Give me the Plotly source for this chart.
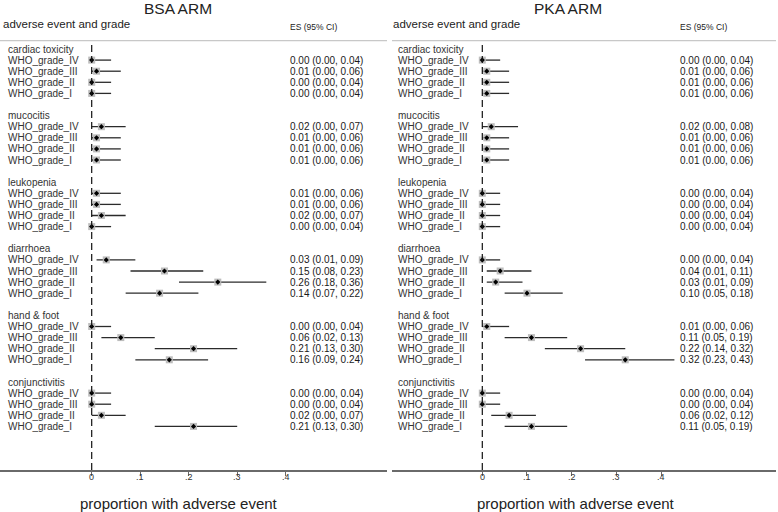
import plotly.graph_objects as go

# ---------------- data ----------------
events = ["cardiac toxicity", "mucocitis", "leukopenia", "diarrhoea", "hand & foot", "conjunctivitis"]
grades = ["WHO_grade_IV", "WHO_grade_III", "WHO_grade_II", "WHO_grade_I"]
tick_vals = [0, 0.1, 0.2, 0.3, 0.4]
tick_text = ["0", ".1", ".2", ".3", ".4"]
arm_titles = ["BSA ARM", "PKA ARM"]

bsa_es = [0.00, 0.01, 0.00, 0.00,
          0.02, 0.01, 0.01, 0.01,
          0.01, 0.01, 0.02, 0.00,
          0.03, 0.15, 0.26, 0.14,
          0.00, 0.06, 0.21, 0.16,
          0.00, 0.00, 0.02, 0.21]
bsa_lo = [0.00, 0.00, 0.00, 0.00,
          0.00, 0.00, 0.00, 0.00,
          0.00, 0.00, 0.00, 0.00,
          0.01, 0.08, 0.18, 0.07,
          0.00, 0.02, 0.13, 0.09,
          0.00, 0.00, 0.00, 0.13]
bsa_hi = [0.04, 0.06, 0.04, 0.04,
          0.07, 0.06, 0.06, 0.06,
          0.06, 0.06, 0.07, 0.04,
          0.09, 0.23, 0.36, 0.22,
          0.04, 0.13, 0.30, 0.24,
          0.04, 0.04, 0.07, 0.30]

pka_es = [0.00, 0.01, 0.01, 0.01,
          0.02, 0.01, 0.01, 0.01,
          0.00, 0.00, 0.00, 0.00,
          0.00, 0.04, 0.03, 0.10,
          0.01, 0.11, 0.22, 0.32,
          0.00, 0.00, 0.06, 0.11]
pka_lo = [0.00, 0.00, 0.00, 0.00,
          0.00, 0.00, 0.00, 0.00,
          0.00, 0.00, 0.00, 0.00,
          0.00, 0.01, 0.01, 0.05,
          0.00, 0.05, 0.14, 0.23,
          0.00, 0.00, 0.02, 0.05]
pka_hi = [0.04, 0.06, 0.06, 0.06,
          0.08, 0.06, 0.06, 0.06,
          0.04, 0.04, 0.04, 0.04,
          0.04, 0.11, 0.09, 0.18,
          0.06, 0.19, 0.32, 0.43,
          0.04, 0.04, 0.12, 0.19]

# ---------------- layout helpers (pixels) ----------------
W, H = 778, 512
FONT = "Liberation Sans, Arial, sans-serif"
ROW0, ROWH = 49.0, 11.1          # pixel of first row, row height
TOP, AXIS = 41.0, 470.0          # plot area top / axis line (px)
panels = [
    dict(dom=(0, 387), zero=91.7, ppu=485.0, xa="x", title_cx=178, axtitle_cx=179, lab_px=8, es_px=290, head_px=3),
    dict(dom=(392, 776), zero=482.3, ppu=446.75, xa="x2", title_cx=568, axtitle_cx=576, lab_px=398, es_px=680, head_px=393),
]


def py(px):
    return 1 - px / H


def pxv(p, px):
    return (px - p["zero"]) / p["ppu"]


def row_of(px):
    return (px - ROW0) / ROWH


grade_rows = []
for g in range(len(events)):
    for k in range(len(grades)):
        grade_rows.append(6 * g + 1 + k)
header_rows = [6 * g for g in range(len(events))]

fig = go.Figure()
annotations = []
shapes = []
data_sets = [(bsa_es, bsa_lo, bsa_hi), (pka_es, pka_lo, pka_hi)]

for i, (p, (es, lo, hi)) in enumerate(zip(panels, data_sets)):
    xa = p["xa"]
    # CI lines
    fig.add_trace(go.Scatter(
        x=es, y=grade_rows, mode="markers", xaxis=xa, yaxis="y",
        marker=dict(size=1, opacity=0),
        error_x=dict(type="data", symmetric=False,
                     array=[h - e for h, e in zip(hi, es)],
                     arrayminus=[e - l for e, l in zip(es, lo)],
                     color="#2b2b2b", thickness=1.3, width=0),
        showlegend=False, hoverinfo="skip"))
    # grey boxes
    fig.add_trace(go.Scatter(
        x=es, y=grade_rows, mode="markers", xaxis=xa, yaxis="y",
        marker=dict(symbol="square", size=7, color="#bdbdbd", line=dict(width=0)),
        showlegend=False, hoverinfo="skip"))
    # point estimates
    fig.add_trace(go.Scatter(
        x=es, y=grade_rows, mode="markers", xaxis=xa, yaxis="y",
        marker=dict(symbol="diamond", size=4, color="#000000", line=dict(width=0)),
        showlegend=False, hoverinfo="skip"))

    # labels
    for g, ev in enumerate(events):
        annotations.append(dict(x=pxv(p, p["lab_px"]), y=header_rows[g], xref=xa, yref="y",
                                text=ev, showarrow=False, xanchor="left", yanchor="middle",
                                borderpad=0, borderwidth=0,
                                font=dict(family=FONT, size=10, color="#333333")))
    for j, r in enumerate(grade_rows):
        annotations.append(dict(x=pxv(p, p["lab_px"]), y=r, xref=xa, yref="y",
                                text=grades[j % len(grades)], showarrow=False,
                                xanchor="left", yanchor="middle", borderpad=0, borderwidth=0,
                                font=dict(family=FONT, size=10, color="#333333")))
        annotations.append(dict(x=pxv(p, p["es_px"]), y=r, xref=xa, yref="y",
                                text=f"{es[j]:.2f} ({lo[j]:.2f}, {hi[j]:.2f})", showarrow=False,
                                xanchor="left", yanchor="middle", borderpad=0, borderwidth=0,
                                font=dict(family=FONT, size=10, color="#1a1a1a")))

    # tick labels
    for tv, tt in zip(tick_vals, tick_text):
        annotations.append(dict(x=tv, y=py(477), xref=xa, yref="paper", text=tt,
                                showarrow=False, xanchor="center", yanchor="middle",
                                borderpad=0, borderwidth=0,
                                font=dict(family=FONT, size=9, color="#333333")))

    # headers
    annotations.append(dict(x=p["title_cx"] / W, y=py(8), xref="paper", yref="paper",
                            text=arm_titles[i], showarrow=False, xanchor="center", yanchor="middle",
                            borderpad=0, borderwidth=0,
                            font=dict(family=FONT, size=15.5, color="#222222")))
    annotations.append(dict(x=p["head_px"] / W, y=py(24), xref="paper", yref="paper",
                            text="adverse event and grade", showarrow=False, xanchor="left",
                            yanchor="middle", borderpad=0, borderwidth=0,
                            font=dict(family=FONT, size=11.5, color="#222222")))
    annotations.append(dict(x=p["es_px"] / W, y=py(27), xref="paper", yref="paper",
                            text="ES (95% CI)", showarrow=False, xanchor="left",
                            yanchor="middle", borderpad=0, borderwidth=0,
                            font=dict(family=FONT, size=8.5, color="#222222")))
    annotations.append(dict(x=p["axtitle_cx"] / W, y=py(503), xref="paper", yref="paper",
                            text="proportion with adverse event", showarrow=False,
                            xanchor="center", yanchor="middle", borderpad=0, borderwidth=0,
                            font=dict(family=FONT, size=15, color="#222222")))

    # grey header rule
    shapes.append(dict(type="line", xref="paper", yref="paper",
                       x0=p["dom"][0] / W, x1=p["dom"][1] / W, y0=py(40.7), y1=py(40.7),
                       line=dict(color="#c8c8c8", width=1.2)))
    # dashed null line
    shapes.append(dict(type="line", xref=xa, yref="paper", x0=0, x1=0,
                       y0=py(AXIS), y1=py(TOP),
                       line=dict(color="#111111", width=1.2, dash="7px,4px")))

axis_common = dict(showgrid=False, zeroline=False, showline=True, linecolor="#6a6a6a",
                   linewidth=1.5, ticks="outside", ticklen=4, tickwidth=1, tickcolor="#6a6a6a",
                   tickvals=tick_vals, showticklabels=False,
                   fixedrange=True)

p0, p1 = panels
fig.update_layout(
    width=W, height=H,
    margin=dict(l=0, r=0, t=0, b=0),
    paper_bgcolor="white", plot_bgcolor="white",
    showlegend=False,
    xaxis=dict(domain=[p0["dom"][0] / W, p0["dom"][1] / W],
               range=[pxv(p0, p0["dom"][0]), pxv(p0, p0["dom"][1])], anchor="y", **axis_common),
    xaxis2=dict(domain=[p1["dom"][0] / W, p1["dom"][1] / W],
                range=[pxv(p1, p1["dom"][0]), pxv(p1, p1["dom"][1])], anchor="y", **axis_common),
    yaxis=dict(domain=[py(AXIS), py(TOP)], range=[row_of(AXIS), row_of(TOP)],
               visible=False, fixedrange=True),
    annotations=annotations,
    shapes=shapes,
)

fig.write_html("out.html", config={"displayModeBar": False, "staticPlot": True},
               post_script="document.body.style.margin='0';document.body.style.overflow='hidden';")
